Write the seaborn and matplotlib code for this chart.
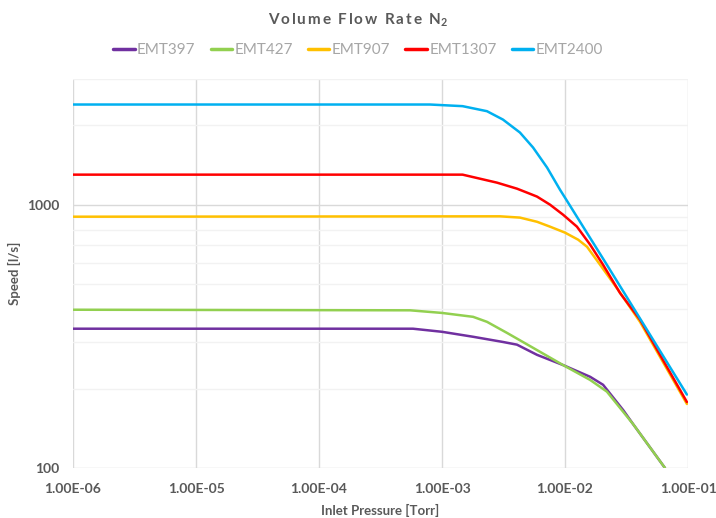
import numpy as np
import pandas as pd
import matplotlib
matplotlib.use("Agg")
import matplotlib.pyplot as plt
import seaborn as sns
from matplotlib.ticker import FixedLocator, NullFormatter

# ---- data ----
series_names = ["EMT397", "EMT427", "EMT907", "EMT1307", "EMT2400"]
series_colors = ["#7030A0", "#92D050", "#FFC000", "#FF0000", "#00B0F0"]

emt397_p = [1e-6, 5.81e-4, 1.0e-3, 1.79e-3, 3.13e-3, 4.07e-3, 5.92e-3, 9.64e-3, 1.60e-2, 2.04e-2, 2.97e-2, 3.57e-2, 6.5e-2]
emt397_s = [338, 338, 329, 315, 301, 294, 269, 246, 222, 207, 166, 147, 100]

emt427_p = [1e-6, 5.50e-4, 1.0e-3, 1.79e-3, 2.32e-3, 3.37e-3, 5.50e-3, 9.64e-3, 1.60e-2, 2.19e-2, 3.57e-2, 6.5e-2]
emt427_s = [399, 397, 388, 375, 359, 326, 286, 246, 216, 195, 147, 100]

emt907_p = [1e-6, 2.96e-3, 4.30e-3, 5.92e-3, 7.55e-3, 1.0e-2, 1.28e-2, 1.51e-2, 1.93e-2, 2.7e-2, 4.07e-2, 9.8e-2]
emt907_s = [900, 903, 893, 861, 825, 783, 736, 692, 591, 475, 359, 175]

emt1307_p = [1e-6, 1.47e-3, 2.80e-3, 4.07e-3, 4.91e-3, 5.92e-3, 7.55e-3, 9.64e-3, 1.25e-2, 1.60e-2, 2.04e-2, 2.80e-2, 4.07e-2, 9.8e-2]
emt1307_s = [1300, 1300, 1212, 1150, 1111, 1073, 1000, 916, 825, 705, 591, 462, 366, 178]

emt2400_p = [1e-6, 7.98e-4, 1.47e-3, 2.32e-3, 3.13e-3, 4.30e-3, 5.50e-3, 7.15e-3, 9.1e-3, 1.0e-2, 2.19e-2, 9.8e-2]
emt2400_s = [2400, 2400, 2366, 2264, 2104, 1879, 1648, 1383, 1140, 1063, 591, 190]

x_ticks = [1e-6, 1e-5, 1e-4, 1e-3, 1e-2, 1e-1]
x_tick_labels = ["1.00E-06", "1.00E-05", "1.00E-04", "1.00E-03", "1.00E-02", "1.00E-01"]
y_ticks = [100, 1000]
y_tick_labels = ["100", "1000"]
y_minor = [200, 300, 400, 500, 600, 700, 800, 900, 2000, 3000]

frames = []
for name, p, s in [
    ("EMT397", emt397_p, emt397_s),
    ("EMT427", emt427_p, emt427_s),
    ("EMT907", emt907_p, emt907_s),
    ("EMT1307", emt1307_p, emt1307_s),
    ("EMT2400", emt2400_p, emt2400_s),
]:
    frames.append(pd.DataFrame({"pressure": p, "speed": s, "model": name}))
df = pd.concat(frames, ignore_index=True)

# ---- style ----
sns.set_style("white")
plt.rcParams["font.family"] = ["Lato", "DejaVu Sans"]
plt.rcParams["mathtext.fontset"] = "custom"
plt.rcParams["mathtext.rm"] = "Lato:bold"
plt.rcParams["mathtext.bf"] = "Lato:bold"
plt.rcParams["lines.solid_joinstyle"] = "round"
plt.rcParams["lines.solid_capstyle"] = "round"

fig = plt.figure(figsize=(7.16, 5.18), dpi=100)
ax = fig.add_axes([73 / 716, 1 - 468 / 518, (688 - 73) / 716, (468 - 79) / 518])

ax.set_xscale("log")
ax.set_yscale("log")

sns.lineplot(data=df, x="pressure", y="speed", hue="model", hue_order=series_names,
             palette=series_colors, sort=False, estimator=None,
             linewidth=1.8, ax=ax, legend=True)

ax.set_xlim(1e-6, 1e-1)
ax.set_ylim(100, 3000)

# grid
ax.xaxis.set_major_locator(FixedLocator(x_ticks))
ax.xaxis.set_minor_locator(FixedLocator([]))
ax.set_xticklabels(x_tick_labels)
ax.yaxis.set_major_locator(FixedLocator(y_ticks))
ax.yaxis.set_minor_locator(FixedLocator(y_minor))
ax.yaxis.set_minor_formatter(NullFormatter())
ax.set_yticklabels(y_tick_labels)
ax.grid(True, which="major", color="#D9D9D9", linewidth=1.0)
ax.grid(True, which="minor", axis="y", color="#F2F2F2", linewidth=1.0)
ax.set_axisbelow(True)
for sp in ax.spines.values():
    sp.set_visible(False)
ax.tick_params(axis="both", which="both", length=0)
ax.tick_params(axis="x", pad=11, labelsize=10, labelcolor="#595959")
ax.tick_params(axis="y", pad=10, labelsize=10, labelcolor="#595959")
for lab in ax.get_xticklabels() + ax.get_yticklabels():
    lab.set_fontweight("bold")

ax.set_xlabel("Inlet Pressure [Torr]", fontsize=9.5, fontweight="bold", color="#595959", labelpad=6)
ax.set_ylabel("Speed [l/s]", fontsize=9.5, fontweight="bold", color="#595959", labelpad=4)

# title with slight letter spacing (thin spaces between letters)
title_words = ["Volume", "Flow", "Rate"]
title_str = "  ".join("\u2009".join(w) for w in title_words) + "  " + r"N$_\mathregular{2}$"
fig.text(0.5, 1 - 20 / 518, title_str, ha="center", va="center",
         fontsize=11, fontweight="bold", color="#595959")

handles, labels = ax.get_legend_handles_labels()
ax.legend(handles, labels, loc="center", bbox_to_anchor=(0.5, 1 - 50 / 518),
          bbox_transform=fig.transFigure, ncol=5, frameon=False,
          fontsize=11, handlelength=1.4, handletextpad=0.15, columnspacing=1.0,
          labelcolor="#A6A6A6")
for line in ax.get_legend().get_lines():
    line.set_linewidth(2.5)

fig.savefig("out.png", dpi=100)
